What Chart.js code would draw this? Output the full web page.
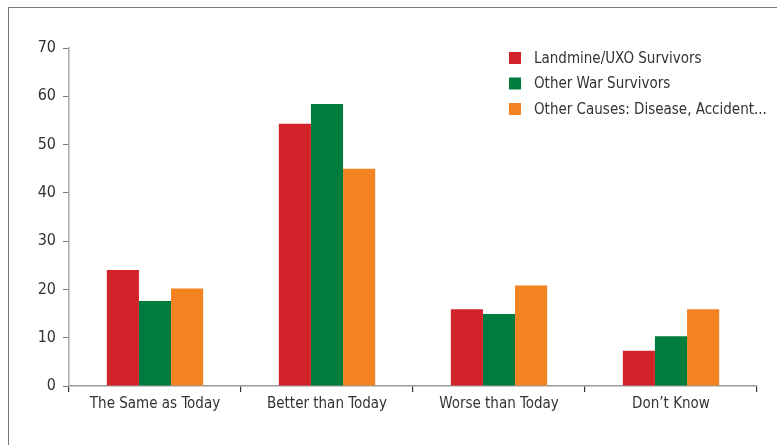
<!DOCTYPE html>
<html>
<head>
<meta charset="utf-8">
<script src="https://cdn.jsdelivr.net/npm/chart.js@4"></script>
<style>
  html, body { margin: 0; padding: 0; background: #fff; }
  #wrap { position: relative; width: 777px; height: 445px; }
  #frame { position: absolute; left: 8px; top: 7px; right: 0; bottom: 0;
           border-left: 1.5px solid #777; border-top: 1.5px solid #777; }
  canvas { position: absolute; left: 0; top: 0; }
</style>
</head>
<body>
<div id="wrap">
  <div id="frame"></div>
  <canvas id="futureChart" width="777" height="445"></canvas>
</div>
<script>
// categories and series
var categories = ['The Same as Today', 'Better than Today', 'Worse than Today', 'Don\u2019t Know'];
var landmineUxo = [24, 54.3, 15.9, 7.3];
var otherWar = [17.6, 58.4, 14.9, 10.3];
var otherCauses = [20.2, 45.0, 20.8, 15.9];
var yTicks = [0, 10, 20, 30, 40, 50, 60, 70];

var FONT = "'DejaVu Sans Condensed', 'Liberation Sans Narrow', sans-serif";

// legend drawn inside the plot, top right, as a simple column
var insideLegend = {
    id: 'insideLegend',
    afterDraw: function(chart) {
        var ctx = chart.ctx;
        ctx.save();
        ctx.font = '15px ' + FONT;
        ctx.textBaseline = 'middle';
        chart.data.datasets.forEach(function(ds, i) {
            var y = 58 + i * 25.5;
            ctx.fillStyle = ds.backgroundColor;
            ctx.fillRect(509, y - 6, 12, 12);
            ctx.fillStyle = '#333';
            ctx.fillText(ds.label, 534, y + 1);
        });
        ctx.restore();
    }
};

var ctx = document.getElementById('futureChart').getContext('2d');
var chart = new Chart(ctx, {
    type: 'bar',
    data: {
        labels: categories,
        datasets: [
            { label: 'Landmine/UXO Survivors', data: landmineUxo, backgroundColor: '#D2232A' },
            { label: 'Other War Survivors', data: otherWar, backgroundColor: '#007C3E' },
            { label: 'Other Causes: Disease, Accident...', data: otherCauses, backgroundColor: '#F38321' }
        ]
    },
    options: {
        responsive: false,
        animation: false,
        layout: { padding: { left: 0, top: 48, right: 20, bottom: 0 } },
        datasets: { bar: { categoryPercentage: 0.56, barPercentage: 1 } },
        plugins: {
            legend: { display: false },
            tooltip: { enabled: false }
        },
        scales: {
            x: {
                grid: { display: true, drawOnChartArea: false, offset: true, tickLength: 6, color: '#333', lineWidth: 1.2 },
                border: { color: '#999', width: 1.5 },
                ticks: { color: '#333', font: { family: FONT, size: 15 }, padding: 3, maxRotation: 0 },
                afterFit: function(scale) { scale.height = 59; }
            },
            y: {
                min: 0,
                max: yTicks[yTicks.length - 1],
                afterBuildTicks: function(scale) {
                    scale.ticks = yTicks.map(function(v) { return { value: v }; });
                },
                grid: { display: true, drawOnChartArea: false, tickLength: 6, color: '#777', lineWidth: 1 },
                border: { color: '#aaa', width: 1.5 },
                ticks: { color: '#333', font: { family: FONT, size: 16 }, padding: 7 },
                afterFit: function(scale) { scale.width = 69; }
            }
        }
    },
    plugins: [insideLegend]
});
</script>
</body>
</html>
